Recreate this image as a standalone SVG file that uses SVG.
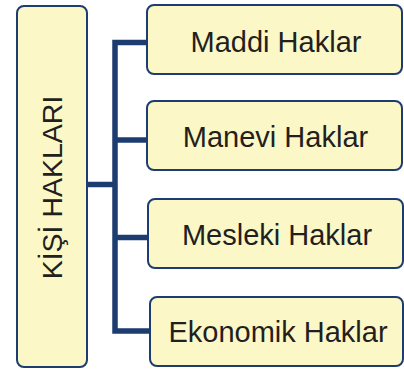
<svg xmlns="http://www.w3.org/2000/svg" width="404" height="369" viewBox="0 0 404 369">
  <style>
    .box { fill: #fcf7c6; stroke: #1d3d70; stroke-width: 2; }
    .lbl { font-family: "Liberation Sans", Arial, sans-serif; font-size: 29px; fill: #231f20; text-anchor: middle; }
    .wire { fill: none; stroke: #1d3d70; stroke-width: 5.5; stroke-linejoin: miter; }
  </style>
  <rect width="404" height="369" fill="#ffffff"/>
  <g id="connectors">
    <path class="wire" d="M87,184.5 H115"/>
    <path class="wire" d="M148,42.5 H115 V331 H150"/>
    <path class="wire" d="M115,140 H148"/>
    <path class="wire" d="M115,237.5 H149"/>
  </g>
  <g id="kisi-haklari">
    <rect class="box" x="17" y="6" width="70" height="361" rx="7"/>
    <text class="lbl" style="font-size:28.5px" transform="translate(62,187.5) rotate(-90)">KİŞİ HAKLARI</text>
  </g>
  <g id="maddi">
    <rect class="box" x="147" y="5" width="255" height="69" rx="7"/>
    <text class="lbl" x="276" y="52">Maddi Haklar</text>
  </g>
  <g id="manevi">
    <rect class="box" x="147" y="101" width="255" height="69" rx="7"/>
    <text class="lbl" x="275.5" y="147">Manevi Haklar</text>
  </g>
  <g id="mesleki">
    <rect class="box" x="148" y="199" width="255" height="69" rx="7"/>
    <text class="lbl" x="277" y="245">Mesleki Haklar</text>
  </g>
  <g id="ekonomik">
    <rect class="box" x="150" y="297" width="253" height="69" rx="7"/>
    <text class="lbl" x="278" y="342">Ekonomik Haklar</text>
  </g>
</svg>
